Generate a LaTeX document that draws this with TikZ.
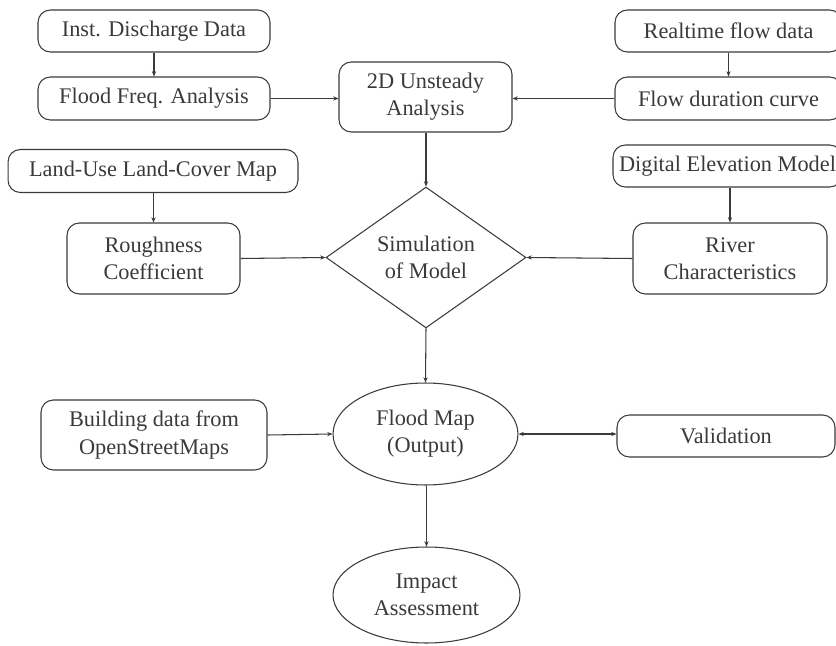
\documentclass[tikz,border=0pt]{standalone}
\usepackage{fontspec}
\setmainfont{Liberation Serif}
\usetikzlibrary{shapes.geometric,arrows.meta}
\definecolor{inkgray}{HTML}{3A3A3A}
\tikzset{
  base/.style={draw=inkgray, text=inkgray, line width=0.6pt, font=\fontsize{12.7}{15.5}\selectfont, align=center, inner sep=0pt},
  rbox/.style={base, rectangle, rounded corners=7pt},
  decision/.style={base, diamond},
  oval/.style={base, ellipse},
  link/.style={draw=inkgray, line width=0.6pt, -{Stealth[length=3pt,width=2.4pt]}},
  dlink/.style={link, {Stealth[length=3pt,width=2.4pt]}-{Stealth[length=3pt,width=2.4pt]}},
}
\begin{document}
\begin{tikzpicture}[x=0.02cm,y=-0.02cm]
\useasboundingbox (0,0) rectangle (836,646);
% input data
\node[rbox, minimum width=4.64cm, minimum height=0.84cm] (discharge) at (154,31) {Inst. Discharge Data};
\node[rbox, minimum width=4.64cm, minimum height=0.86cm] (freq) at (154,98.5) {Flood Freq. Analysis};
\node[rbox, minimum width=4.54cm, minimum height=0.84cm] (realtime) at (728.5,31) {Realtime flow data};
\node[rbox, minimum width=4.54cm, minimum height=0.86cm] (duration) at (728.5,98.5) {Flow duration curve};
\node[rbox, minimum width=3.46cm, minimum height=1.40cm] (unsteady) at (425.5,97) {2D Unsteady\\Analysis};
\node[rbox, minimum width=5.80cm, minimum height=0.86cm] (lulc) at (153,171) {Land-Use Land-Cover Map};
\node[rbox, minimum width=3.46cm, minimum height=1.42cm] (rough) at (153.5,258.5) {Roughness\\Coefficient};
\node[rbox, minimum width=4.58cm, minimum height=0.84cm] (dem) at (727.5,166) {Digital Elevation Model};
\node[rbox, minimum width=3.88cm, minimum height=1.42cm] (river) at (730,258.5) {River\\Characteristics};
% model and output
\node[decision, minimum width=4.00cm, minimum height=2.58cm] (simulation) at (426,257.5) {Simulation\\of Model};
\node[rbox, minimum width=4.52cm, minimum height=1.40cm] (building) at (154,435) {Building data from\\OpenStreetMaps};
\node[oval, minimum width=3.70cm, minimum height=2.04cm] (floodmap) at (425.5,434) {Flood Map\\(Output)};
\node[rbox, minimum width=4.36cm, minimum height=0.84cm] (validation) at (726,436) {Validation};
\node[oval, minimum width=3.74cm, minimum height=1.92cm] (impact) at (426.5,595) {Impact\\Assessment};
% connectors
\draw[link] (discharge) -- (freq);
\draw[link] (freq.east) -- (unsteady.west |- freq.east);
\draw[link] (realtime) -- (duration);
\draw[link] (duration.west) -- (unsteady.east |- duration.west);
\draw[link] (lulc.south -| rough.north) -- (rough.north);
\draw[link] (unsteady.south -| simulation.north) -- (simulation.north);
\draw[link] (rough.east) -- (simulation.west);
\draw[link] (river.north |- dem.south) -- (river.north);
\draw[link] (river.west) -- (simulation.east);
\draw[link] (simulation.south) -- (floodmap.north);
\draw[link] (building.east) -- (floodmap.west);
\draw[dlink] (floodmap.east) -- (validation.west |- floodmap.east);
\draw[link] (floodmap.south -| impact.north) -- (impact.north);
\end{tikzpicture}
\end{document}
